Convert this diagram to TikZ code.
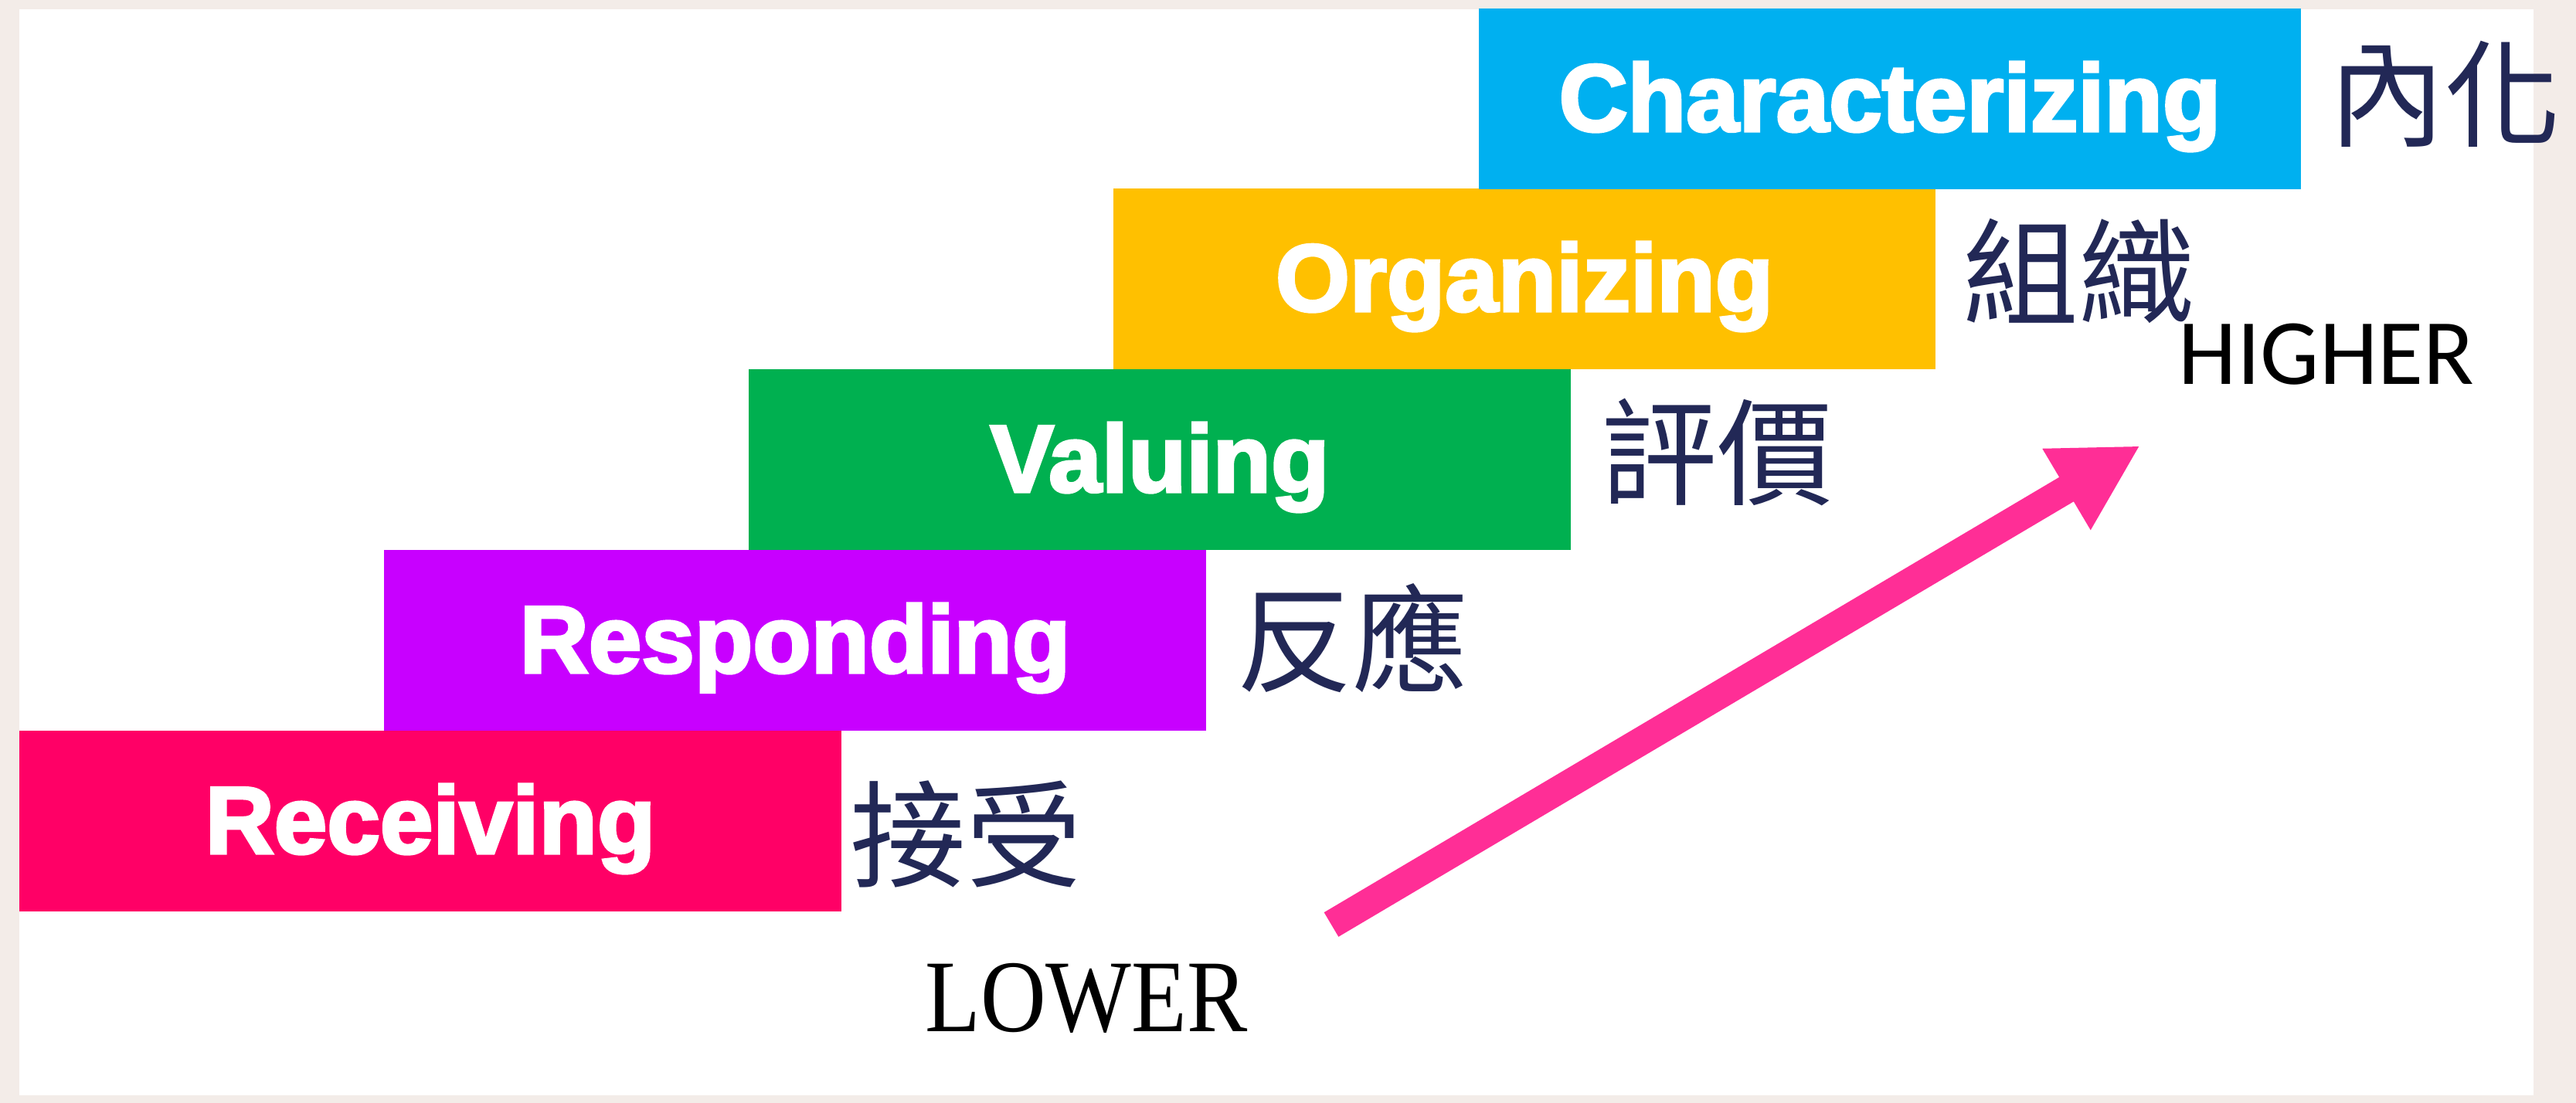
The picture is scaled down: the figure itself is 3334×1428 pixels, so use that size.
\documentclass[tikz,border=0pt]{standalone}
\usepackage{fontspec}
\usetikzlibrary{arrows.meta}
\newfontfamily\boxfont{Liberation Sans}[BoldFeatures={FakeBold=3}]
\newfontfamily\cjkfont{Noto Sans CJK TC}
\newfontfamily\lowfont{Liberation Serif}
\newfontfamily\highfont{Carlito}
\definecolor{bordercol}{HTML}{F3ECE8}
\definecolor{recvcol}{HTML}{FF0066}
\definecolor{respcol}{HTML}{C800FF}
\definecolor{valcol}{HTML}{00B050}
\definecolor{orgcol}{HTML}{FFC000}
\definecolor{charcol}{HTML}{00B0F0}
\definecolor{navy}{RGB}{34,40,86}
\definecolor{arrowpink}{HTML}{FF2E96}
\tikzset{
  stepbox/.style={anchor=north west, inner sep=0pt, outer sep=0pt,
    minimum width=319.2pt, minimum height=70.2pt, text=white,
    font=\boxfont\bfseries\fontsize{37}{40}\selectfont},
  steptext/.style={anchor=base, inner sep=0pt, text=white,
    font=\boxfont\bfseries\fontsize{37}{40}\selectfont},
  cjklabel/.style={anchor=west, inner sep=0pt, text=navy,
    font=\cjkfont\fontsize{45}{50}\selectfont},
  risearrow/.style={draw=arrowpink, line width=11pt,
    -{Triangle[length=33.3pt,width=34.2pt]}}
}
\begin{document}
\begin{tikzpicture}[x=0.3pt,y=-0.3pt]
\useasboundingbox (0,0) rectangle (3334,1428);
\fill[bordercol] (0,0) rectangle (3334,1428);
\fill[white] (25,12) rectangle (3279,1418);
% boxes
\node[stepbox, fill=recvcol] (recv) at (25,946) {};
\node[stepbox, fill=respcol] (resp) at (497,712) {};
\node[stepbox, fill=valcol] (val) at (969,478) {};
\node[stepbox, fill=orgcol] (org) at (1441,244) {};
\node[stepbox, fill=charcol] (char) at (1914,11) {};
% box texts
\node[steptext] (recvtxt) at ([yshift=-12.5pt]recv.center) {Receiving};
\node[steptext] (resptxt) at ([yshift=-12.5pt]resp.center) {Responding};
\node[steptext] (valtxt) at ([yshift=-12.5pt]val.center) {Valuing};
\node[steptext] (orgtxt) at ([yshift=-12.5pt]org.center) {Organizing};
\node[steptext] (chartxt) at ([yshift=-12.5pt]char.center) {Characterizing};
% chinese labels
\node[cjklabel] (recvzh) at (1100,1080) {接受};
\node[cjklabel] (respzh) at (1600,826) {反應};
\node[cjklabel] (valzh) at (2072,585) {評價};
\node[cjklabel] (orgzh) at (2540,351) {組織};
\node[cjklabel] (charzh) at (3014,122) {內化};
% lower / higher
\node[anchor=base, inner sep=0pt, xscale=0.88, font=\lowfont\fontsize{40}{44}\selectfont] (lower) at (1406,1335) {LOWER};
\node[anchor=base, inner sep=0pt, font=\highfont\fontsize{36.3}{40}\selectfont] (higher) at (3011,498) {HIGHER};
% arrow
\coordinate (arrowstart) at (1723,1197);
\coordinate (arrowend) at (2770,577);
\draw[risearrow] (arrowstart) -- (arrowend);
\end{tikzpicture}
\end{document}
